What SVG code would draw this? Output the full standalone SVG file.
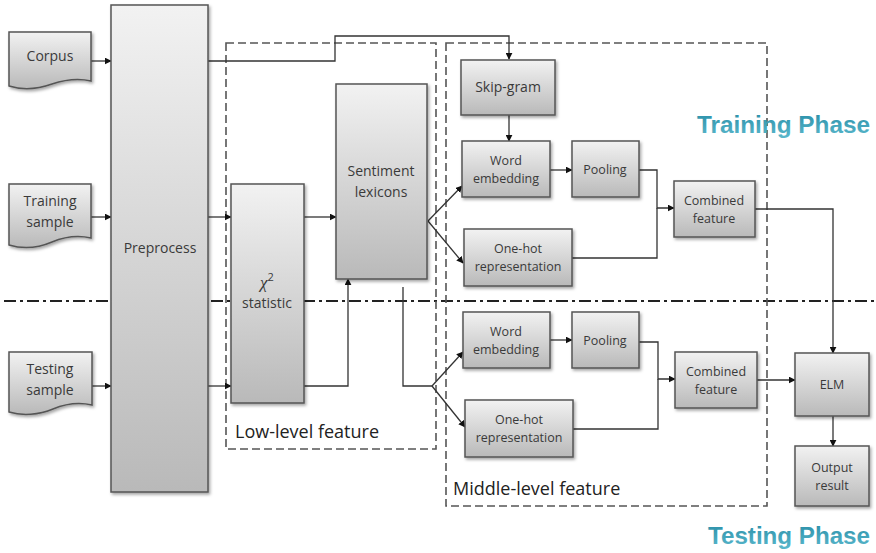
<svg xmlns="http://www.w3.org/2000/svg" width="876" height="553" viewBox="0 0 876 553">
<defs>
  <linearGradient id="g" x1="0" y1="0" x2="0" y2="1">
    <stop offset="0" stop-color="#f2f2f2"/>
    <stop offset="1" stop-color="#b9b9b9"/>
  </linearGradient>
  <linearGradient id="tg" x1="0" y1="0" x2="0" y2="1">
    <stop offset="0" stop-color="#2a8fa8"/>
    <stop offset="1" stop-color="#5bb8cc"/>
  </linearGradient>
  <filter id="sh" x="-10%" y="-10%" width="130%" height="130%">
    <feDropShadow dx="1.5" dy="2" stdDeviation="1.5" flood-color="#000" flood-opacity="0.35"/>
  </filter>
  <marker id="ar" viewBox="0 0 10 10" refX="9" refY="5" markerWidth="7" markerHeight="7" markerUnits="userSpaceOnUse" orient="auto">
    <path d="M0,0 L10,5 L0,10 Z" fill="#111"/>
  </marker>
</defs>
<style>
  .box { fill: url(#g); stroke: #555; stroke-width: 1.5; filter: url(#sh); }
  .t { font-family: "Open Sans", "Liberation Sans", sans-serif; font-size: 12.5px; fill: #3a3a3a; text-anchor: middle; }
  .tb { font-family: "Open Sans", "Liberation Sans", sans-serif; font-size: 14px; fill: #3a3a3a; text-anchor: middle; }
  .lab { font-family: "Open Sans", "Liberation Sans", sans-serif; font-size: 18px; fill: #222; }
  .phase { font-family: "Liberation Sans", Arial, sans-serif; font-weight: bold; fill: url(#tg); }
  .dash { fill: none; stroke: #555; stroke-width: 1.6; stroke-dasharray: 8 4; }
  .c { fill: none; stroke: #333; stroke-width: 1.3; }
  .a { marker-end: url(#ar); }
</style>

<!-- dash-dot separator -->
<line x1="4" y1="301" x2="876" y2="301" stroke="#222" stroke-width="2" stroke-dasharray="12 4 3 4"/>

<!-- group frames -->
<g id="low-level-feature">
  <rect class="dash" x="226" y="43" width="210" height="406"/>
  <text class="lab" x="235" y="438">Low-level feature</text>
</g>
<g id="middle-level-feature">
  <rect class="dash" x="446" y="43" width="321" height="463"/>
  <text class="lab" x="453" y="495">Middle-level feature</text>
</g>

<!-- connectors -->
<g id="connectors">
  <path class="c a" d="M91,61 H111"/>
  <path class="c a" d="M91,217 H111"/>
  <path class="c a" d="M92,386 H111"/>
  <path class="c a" d="M208,61 H335 V36 H509 V59"/>
  <path class="c a" d="M208,217 H231"/>
  <path class="c a" d="M208,386 H231"/>
  <path class="c a" d="M304,217 H336"/>
  <path class="c a" d="M304,386 H348 V279"/>
  <path class="c a" d="M428,221 L462,186"/>
  <path class="c a" d="M428,221 L463,263"/>
  <path class="c a" d="M509,115 V141"/>
  <path class="c a" d="M550,170 H572"/>
  <path class="c a" d="M639,170 H657 V208 H674"/>
  <path class="c" d="M572,258 H657 V208"/>
  <path class="c a" d="M755,209 H833 V353"/>
  <path class="c" d="M403,287 V386 H432"/>
  <path class="c a" d="M432,386 L463,352"/>
  <path class="c a" d="M432,386 L465,427"/>
  <path class="c a" d="M550,340 H572"/>
  <path class="c a" d="M639,342 H658 V379 H675"/>
  <path class="c" d="M573,429 H658 V379"/>
  <path class="c a" d="M757,380 H795"/>
  <path class="c a" d="M833,416 V446"/>
</g>

<!-- input documents -->
<g id="corpus">
  <path class="box" d="M9,32 H91 V81 C78,78 64,80 52,84 C38,89 22,90 9,86 Z"/>
  <text class="tb" x="50" y="61">Corpus</text>
</g>
<g id="training-sample">
  <path class="box" d="M9,184 H91 V238 C78,235 64,237 52,242 C38,248 22,249 9,245 Z"/>
  <text class="tb" x="50" y="206">Training</text>
  <text class="tb" x="50" y="227">sample</text>
</g>
<g id="testing-sample">
  <path class="box" d="M9,352 H92 V405 C79,402 65,404 53,409 C39,415 22,416 9,412 Z"/>
  <text class="tb" x="50" y="374">Testing</text>
  <text class="tb" x="50" y="395">sample</text>
</g>

<g id="preprocess">
  <rect class="box" x="111" y="5" width="97" height="487"/>
  <text class="tb" x="160" y="253">Preprocess</text>
</g>

<g id="chi2">
  <rect class="box" x="231" y="184" width="73" height="219"/>
  <text class="tb" x="267" y="288"><tspan font-style="italic" font-family="Liberation Serif, serif" font-size="17">χ</tspan><tspan dy="-7" font-size="11">2</tspan></text>
  <text class="tb" x="267" y="308">statistic</text>
</g>

<g id="sentiment-lexicons">
  <rect class="box" x="336" y="84" width="91" height="195"/>
  <text class="tb" x="381" y="176">Sentiment</text>
  <text class="tb" x="381" y="197">lexicons</text>
</g>

<g id="skip-gram">
  <rect class="box" x="461" y="60" width="94" height="55"/>
  <text class="tb" x="508" y="92">Skip-gram</text>
</g>

<!-- training phase -->
<g id="word-embedding-train">
  <rect class="box" x="462" y="141" width="88" height="56"/>
  <text class="t" x="506" y="165">Word</text>
  <text class="t" x="506" y="183">embedding</text>
</g>
<g id="pooling-train">
  <rect class="box" x="572" y="141" width="67" height="56"/>
  <text class="t" x="605" y="174">Pooling</text>
</g>
<g id="one-hot-train">
  <rect class="box" x="464" y="229" width="108" height="57"/>
  <text class="t" x="518" y="253">One-hot</text>
  <text class="t" x="518" y="271">representation</text>
</g>
<g id="combined-train">
  <rect class="box" x="674" y="181" width="81" height="56"/>
  <text class="t" x="714" y="205">Combined</text>
  <text class="t" x="714" y="223">feature</text>
</g>

<!-- testing phase -->
<g id="word-embedding-test">
  <rect class="box" x="463" y="312" width="87" height="56"/>
  <text class="t" x="506" y="336">Word</text>
  <text class="t" x="506" y="354">embedding</text>
</g>
<g id="pooling-test">
  <rect class="box" x="572" y="312" width="67" height="56"/>
  <text class="t" x="605" y="345">Pooling</text>
</g>
<g id="one-hot-test">
  <rect class="box" x="465" y="400" width="108" height="57"/>
  <text class="t" x="519" y="424">One-hot</text>
  <text class="t" x="519" y="442">representation</text>
</g>
<g id="combined-test">
  <rect class="box" x="675" y="352" width="82" height="56"/>
  <text class="t" x="716" y="376">Combined</text>
  <text class="t" x="716" y="394">feature</text>
</g>

<g id="elm">
  <rect class="box" x="795" y="353" width="74" height="63"/>
  <text class="t" x="832" y="389">ELM</text>
</g>
<g id="output-result">
  <rect class="box" x="795" y="446" width="74" height="60"/>
  <text class="t" x="832" y="472">Output</text>
  <text class="t" x="832" y="490">result</text>
</g>

<text class="phase" x="697" y="133" font-size="23" textLength="173" lengthAdjust="spacingAndGlyphs">Training Phase</text>
<text class="phase" x="708" y="544" font-size="23" textLength="162" lengthAdjust="spacingAndGlyphs">Testing Phase</text>
</svg>
